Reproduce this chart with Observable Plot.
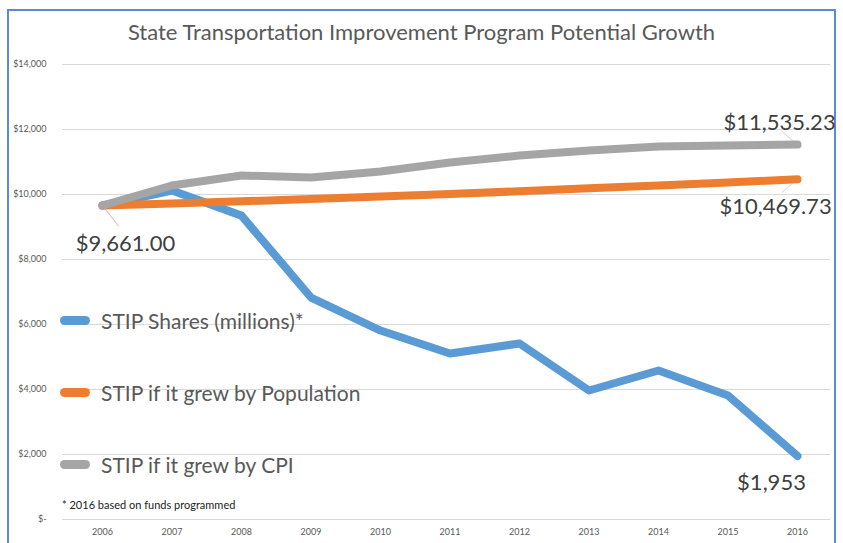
<!DOCTYPE html>
<html><head><meta charset="utf-8">
<script src="https://cdn.jsdelivr.net/npm/d3@7"></script>
<script src="https://cdn.jsdelivr.net/npm/@observablehq/plot@0.6"></script>
<style>
body{margin:0;background:#fff;font-family:Lato,"Open Sans",sans-serif;}
#wrap{position:relative;width:843px;height:543px;overflow:hidden;}
#frame{position:absolute;left:7px;top:9px;width:829px;height:560px;border:2px solid #5B8BD0;box-sizing:border-box;}
#title{position:absolute;left:0;top:18px;width:843px;text-align:center;font-size:22px;color:#595959;}
#chart{position:absolute;left:0;top:52px;}
.leg{position:absolute;left:60px;font-size:21px;color:#595959;display:flex;align-items:center;}
.sw{display:inline-block;width:30px;height:9px;border-radius:4.5px;margin-right:11px;}
#note{position:absolute;left:62px;top:498px;font-size:11px;color:#222;}
</style></head>
<body>
<div id="wrap">
<div id="frame"></div>
<div id="title">State Transportation Improvement Program Potential Growth</div>
<div id="chart"></div>
<div id="legend"></div>
<div id="note">* 2016 based on funds programmed</div>
</div>
<script>
const years = [2006,2007,2008,2009,2010,2011,2012,2013,2014,2015,2016];
const stipShares = [9661,10120,9350,6830,5815,5108,5415,3970,4585,3815,1953];
const stipPopulation = [9661,9725,9790,9860,9935,10015,10100,10190,10280,10370,10469.73];
const stipCPI = [9661,10277,10585,10523,10708,10985,11200,11354,11477,11508,11535.23];
const seriesNames = ["STIP Shares (millions)*","STIP if it grew by Population","STIP if it grew by CPI"];
const colors = ["#5B9BD5","#ED7D31","#A5A5A5"];
const yTicks = [0,2000,4000,6000,8000,10000,12000,14000];

const rows = [];
[stipShares, stipPopulation, stipCPI].forEach((arr,i)=>{
  years.forEach((yr,j)=>rows.push({series:seriesNames[i], year:yr, value:arr[j]}));
});
const fmt = v => v===0 ? "$-" : "$" + d3.format(",")(v);
const last = s => rows.filter(d=>d.series===s).at(-1);
const first = rows[0];

const leaderShape = {draw(ctx,l){ctx.moveTo(0,0);ctx.lineTo(0,-l);}};

const chart = Plot.plot({
  width:843, height:491,
  marginLeft:62, marginRight:13, marginTop:12, marginBottom:24,
  x:{domain:[2006,2016], range:[102,797]},
  y:{domain:[0,14000]},
  color:{domain:seriesNames, range:colors},
  style:{fontFamily:"Lato, 'Open Sans', sans-serif", color:"#595959", background:"transparent"},
  marks:[
    Plot.gridY(yTicks,{stroke:"#D9D9D9", strokeOpacity:1, strokeWidth:1}),
    Plot.axisY(yTicks,{tickSize:0, tickPadding:16, tickFormat:fmt, fontSize:9, label:null}),
    Plot.axisX(years,{tickSize:0, tickPadding:9, tickFormat:d=>String(d), fontSize:9, label:null}),
    Plot.vector([first],{x:"year", y:"value", length:26, rotate:142, anchor:"start", shape:leaderShape, stroke:"#E8B9A8", strokeWidth:1}),
    Plot.vector([last(seriesNames[1])],{x:"year", y:"value", length:20, rotate:230, anchor:"start", shape:leaderShape, stroke:"#DDD", strokeWidth:1}),
    Plot.vector([last(seriesNames[2])],{x:"year", y:"value", length:20, rotate:-50, anchor:"start", shape:leaderShape, stroke:"#DDD", strokeWidth:1}),
    Plot.line(rows,{x:"year", y:"value", stroke:"series", z:"series", strokeWidth:8, strokeLinecap:"round", strokeLinejoin:"round"}),
    Plot.text([first],{x:"year", y:"value", text:d=>"$"+d3.format(",.2f")(d.value), dx:23, dy:38, fontSize:22, fill:"#404040", textAnchor:"middle"}),
    Plot.text([last(seriesNames[2])],{x:"year", y:"value", text:d=>"$"+d3.format(",.2f")(d.value), dx:-18, dy:-22, fontSize:22, fill:"#404040", textAnchor:"middle"}),
    Plot.text([last(seriesNames[1])],{x:"year", y:"value", text:d=>"$"+d3.format(",.2f")(d.value), dx:-22, dy:28, fontSize:22, fill:"#404040", textAnchor:"middle"}),
    Plot.text([last(seriesNames[0])],{x:"year", y:"value", text:d=>"$"+d3.format(",")(d.value), dx:-26, dy:27, fontSize:22, fill:"#404040", textAnchor:"middle"})
  ]
});
document.getElementById("chart").appendChild(chart);

const legTops = [308,380,452];
const leg = document.getElementById("legend");
seriesNames.forEach((n,i)=>{
  const el = document.createElement("div");
  el.className="leg"; el.style.top = legTops[i]+"px";
  el.innerHTML = `<span class="sw" style="background:${colors[i]}"></span>${n}`;
  leg.appendChild(el);
});
</script>
</body></html>
